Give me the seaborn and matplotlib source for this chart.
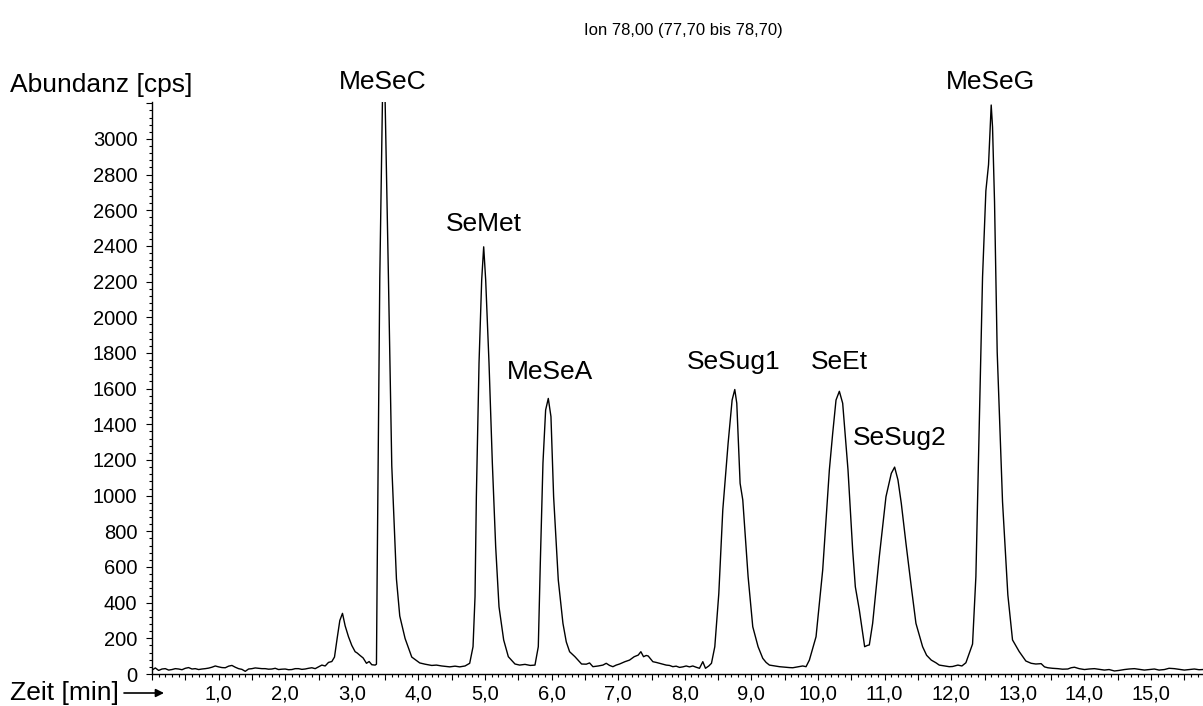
import numpy as np
import pandas as pd
import matplotlib
matplotlib.use("Agg")
import matplotlib.pyplot as plt
import seaborn as sns
from matplotlib.ticker import MultipleLocator, FuncFormatter

# chromatogram trace: retention time [min], abundance [cps]
time_min = [
    0.00, 0.05, 0.10, 0.15, 0.20, 0.25, 0.30, 0.35, 0.40, 0.45, 0.50, 0.55,
    0.60, 0.65, 0.70, 0.75, 0.80, 0.85, 0.90, 0.95, 1.00, 1.05, 1.10, 1.15,
    1.20, 1.25, 1.30, 1.35, 1.40, 1.45, 1.50, 1.55, 1.60, 1.65, 1.70, 1.75,
    1.80, 1.85, 1.90, 1.95, 2.00, 2.05, 2.10, 2.15, 2.20, 2.25, 2.30, 2.35,
    2.40, 2.45, 2.50, 2.55, 2.60, 2.65, 2.70, 2.74, 2.78, 2.82, 2.86, 2.90,
    2.95, 3.00, 3.05, 3.08, 3.12, 3.17, 3.22, 3.26, 3.30, 3.35, 3.37, 3.38,
    3.42, 3.46, 3.50, 3.55, 3.60, 3.67, 3.72, 3.80, 3.90, 4.02, 4.10, 4.20,
    4.27, 4.35, 4.47, 4.55, 4.62, 4.70, 4.77, 4.82, 4.85, 4.87, 4.91, 4.95,
    4.98, 5.01, 5.06, 5.11, 5.16, 5.21, 5.28, 5.35, 5.45, 5.52, 5.60, 5.68,
    5.75, 5.80, 5.83, 5.87, 5.91, 5.95, 5.99, 6.03, 6.10, 6.17, 6.22, 6.27,
    6.35, 6.45, 6.52, 6.57, 6.62, 6.70, 6.77, 6.82, 6.87, 6.92, 6.97, 7.02,
    7.10, 7.17, 7.24, 7.30, 7.34, 7.38, 7.42, 7.45, 7.52, 7.57, 7.62, 7.67,
    7.72, 7.77, 7.82, 7.87, 7.92, 7.97, 8.02, 8.07, 8.12, 8.17, 8.22, 8.27,
    8.31, 8.36, 8.40, 8.45, 8.51, 8.57, 8.65, 8.71, 8.75, 8.78, 8.83, 8.87,
    8.95, 9.02, 9.10, 9.17, 9.22, 9.27, 9.35, 9.42, 9.50, 9.57, 9.62, 9.70,
    9.77, 9.82, 9.87, 9.97, 10.07, 10.17, 10.22, 10.27, 10.32, 10.37, 10.45,
    10.52, 10.56, 10.62, 10.70, 10.74, 10.77, 10.82, 10.92, 11.02, 11.10,
    11.15, 11.20, 11.25, 11.32, 11.40, 11.47, 11.57, 11.63, 11.70, 11.77,
    11.82, 11.90, 11.97, 12.02, 12.10, 12.16, 12.22, 12.32, 12.37, 12.42,
    12.47, 12.52, 12.56, 12.60, 12.62, 12.65, 12.69, 12.77, 12.85, 12.92,
    13.02, 13.12, 13.20, 13.27, 13.35, 13.40, 13.45, 13.52, 13.60, 13.67,
    13.75, 13.80, 13.85, 13.92, 14.00, 14.07, 14.15, 14.22, 14.30, 14.37,
    14.45, 14.52, 14.60, 14.67, 14.75, 14.82, 14.90, 14.97, 15.05, 15.12,
    15.20, 15.27, 15.35, 15.42, 15.50, 15.57, 15.65, 15.72, 15.78,
]
abundance_cps = [
    22, 34, 20, 28, 30, 22, 25, 30, 28, 24, 32, 36,
    28, 30, 25, 28, 30, 33, 38, 45, 40, 36, 35, 44,
    48, 38, 30, 26, 15, 28, 30, 34, 32, 30, 30, 27,
    28, 32, 25, 27, 28, 24, 25, 30, 30, 26, 28, 32,
    35, 30, 40, 50, 45, 65, 70, 95, 200, 300, 340, 270,
    209, 160, 125, 118, 105, 90, 60, 70, 52, 50, 55, 533,
    2220, 3215, 3215, 2220, 1168, 533, 325, 199, 95, 62, 55, 48,
    50, 45, 40, 44, 40, 45, 60, 153, 434, 994, 1743, 2209,
    2395, 2209, 1743, 1183, 714, 377, 191, 97, 56, 50, 54, 48,
    50, 153, 620, 1183, 1480, 1545, 1443, 994, 527, 284, 180, 125,
    97, 56, 55, 62, 41, 45, 50, 60, 48, 41, 50, 56,
    69, 78, 97, 106, 125, 97, 104, 101, 69, 65, 60, 55,
    50, 48, 41, 44, 37, 40, 45, 40, 45, 38, 32, 69,
    32, 45, 60, 153, 450, 920, 1294, 1536, 1595, 1518, 1069, 976,
    546, 265, 153, 88, 65, 50, 45, 41, 38, 36, 35, 40,
    45, 41, 78, 209, 583, 1144, 1349, 1536, 1585, 1518, 1144,
    695, 489, 359, 153, 160, 163, 284, 658, 994, 1125,
    1160, 1088, 957, 733, 489, 284, 153, 105, 78, 63,
    50, 45, 41, 42, 50, 45, 63, 168, 546, 1386,
    2225, 2709, 2856, 3190, 3067, 2647, 1805, 966, 443, 191,
    126, 73, 60, 56, 58, 40, 35, 32, 30, 27,
    28, 35, 38, 30, 25, 28, 30, 26, 22, 25,
    17, 20, 25, 28, 30, 26, 22, 25, 28, 22,
    25, 32, 30, 26, 22, 25, 28, 24, 25,
]

# peak names and where their labels sit (time, abundance)
peak_names = ["MeSeC", "SeMet", "MeSeA", "SeSug1", "SeEt", "SeSug2", "MeSeG"]
label_time = [3.46, 4.98, 5.97, 8.73, 10.32, 11.22, 12.59]
label_abund = [3320, 2523, 1693, 1749, 1749, 1323, 3320]

df = pd.DataFrame({"Zeit": time_min, "Abundanz": abundance_cps})

sns.set_theme(style="ticks")
plt.rcParams['font.family'] = ['Liberation Sans', 'DejaVu Sans']
plt.rcParams['text.color'] = 'black'

W, H = 1203, 706
fig = plt.figure(figsize=(W / 100, H / 100), dpi=100)
ax = fig.add_axes([152 / W, 32 / H, 1 - 152 / W, 572 / H])

sns.lineplot(data=df, x="Zeit", y="Abundanz", ax=ax, color="black",
             lw=1.0, estimator=None, sort=False)

ax.set_xlim(0, 15.78)
ax.set_ylim(0, 3207)
ax.set_xlabel("")
ax.set_ylabel("")
sns.despine(ax=ax)
for s in ["left", "bottom"]:
    ax.spines[s].set_color("black")
    ax.spines[s].set_linewidth(1.0)

ax.xaxis.set_major_locator(MultipleLocator(0.5))
ax.xaxis.set_minor_locator(MultipleLocator(0.1))
ax.xaxis.set_major_formatter(FuncFormatter(
    lambda v, p: f"{v:.1f}".replace(".", ",") if v > 0.01 and abs(v - round(v)) < 1e-6 else ""))
ax.yaxis.set_major_locator(MultipleLocator(200))
ax.yaxis.set_minor_locator(MultipleLocator(40))
ax.yaxis.set_major_formatter(FuncFormatter(lambda v, p: f"{v:.0f}" if v <= 3000 else ""))

ax.tick_params(which="major", direction="out", length=4.5, width=0.8,
               color="black", labelsize=14.5, labelcolor="black")
ax.tick_params(which="minor", direction="out", length=2.5, width=0.8, color="black")
ax.tick_params(axis="x", which="major", pad=3)
ax.tick_params(axis="y", which="major", pad=6)

for name, t, a in zip(peak_names, label_time, label_abund):
    ax.text(t, a, name, ha="center", va="center", fontsize=19, color="black",
            clip_on=False)

fig.text(683 / W, 1 - 30 / H, "Ion 78,00 (77,70 bis 78,70)", ha="center",
         va="center", fontsize=12, color="black")
fig.text(10 / W, 1 - 85 / H, "Abundanz [cps]", ha="left", va="center",
         fontsize=19, color="black")
fig.text(10 / W, 1 - 693 / H, "Zeit [min]", ha="left", va="center",
         fontsize=19, color="black")
ax.annotate("", xy=(164 / W, 1 - 693 / H), xytext=(124 / W, 1 - 693 / H),
            xycoords="figure fraction", textcoords="figure fraction",
            arrowprops=dict(arrowstyle="-|>", color="black", lw=1.2,
                            mutation_scale=12, shrinkA=0, shrinkB=0))

fig.savefig("out.png", dpi=100, facecolor="white")
